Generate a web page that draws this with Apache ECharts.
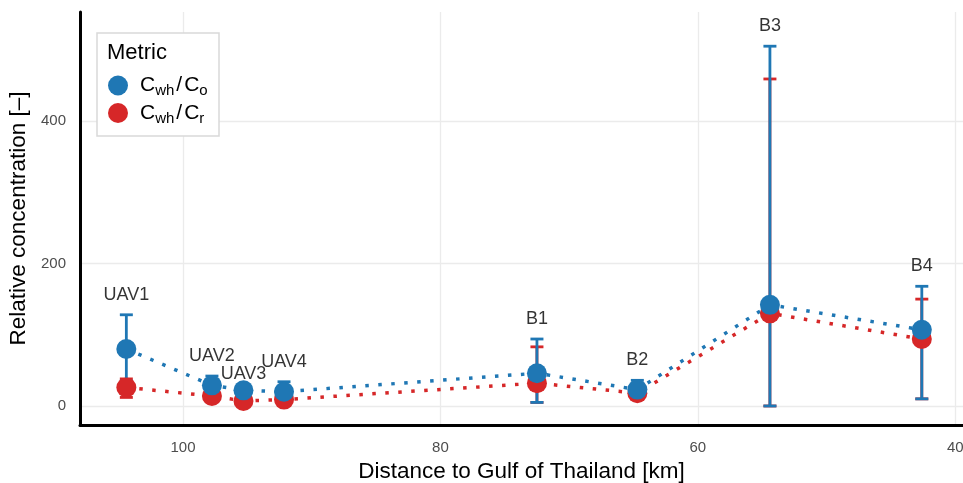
<!DOCTYPE html>
<html><head><meta charset="utf-8">
<script src="https://cdn.jsdelivr.net/npm/echarts@6/dist/echarts.min.js"></script>
<style>html,body{margin:0;padding:0;background:#fff}#c{width:963px;height:483px}</style>
</head><body><div id="c"></div>
<script>
const sites = ['UAV1','UAV2','UAV3','UAV4','B1','B2','B3','B4'];
const distance = [104.4, 97.75, 95.3, 92.15, 72.5, 64.7, 54.4, 42.6];
const coMean = [80, 29, 22, 20, 46, 23, 142, 107];
const coLow  = [35, 20, 18, 12, 5, 14, 0, 10];
const coHigh = [128, 42, 28, 34, 94, 36, 505, 168];
const crMean = [26, 14, 7, 9, 32, 18, 130, 94];
const crLow  = [12, 8, 2, 4, 5, 12, 0, 10];
const crHigh = [38, 20, 12, 14, 83, 24, 459, 150];
const xTicks = [100, 80, 60, 40];
const yTicks = [0, 200, 400];
const seriesNames = ['Cwh/Co', 'Cwh/Cr'];

const BLUE = '#1f77b4', RED = '#d62728';
const FONT = '"Liberation Sans", Arial, sans-serif';
const labelNudge = { UAV3: 3 };

function errorSeries(name, low, high, color, z) {
  return {
    type: 'custom', name: name, z: z, silent: true,
    data: distance.map((d, i) => [d, low[i], high[i]]),
    encode: { x: 0, y: [1, 2] },
    renderItem: function (params, api) {
      const x = api.value(0);
      const lo = api.coord([x, api.value(1)]);
      const hi = api.coord([x, api.value(2)]);
      const w = 6.5;
      const style = { stroke: color, lineWidth: 2.8 };
      return { type: 'group', children: [
        { type: 'line', shape: { x1: lo[0], y1: lo[1], x2: hi[0], y2: hi[1] }, style: style },
        { type: 'line', shape: { x1: lo[0] - w, y1: lo[1], x2: lo[0] + w, y2: lo[1] }, style: style },
        { type: 'line', shape: { x1: hi[0] - w, y1: hi[1], x2: hi[0] + w, y2: hi[1] }, style: style }
      ]};
    }
  };
}
function lineSeries(name, vals, color) {
  return {
    type: 'line', name: name, z: 2, silent: true, symbol: 'none',
    data: distance.map((d, i) => [d, vals[i]]),
    lineStyle: { color: color, width: 3.5, type: [3.5, 9.5], cap: 'butt' }
  };
}
function pointSeries(name, vals, color, z) {
  return {
    type: 'scatter', name: name, z: z, silent: true,
    symbol: 'circle', symbolSize: 20,
    data: distance.map((d, i) => [d, vals[i]]),
    itemStyle: { color: color, opacity: 1 }
  };
}

const chart = echarts.init(document.getElementById('c'), null, { renderer: 'canvas' });
const rich = {
  m: { fontSize: 21, lineHeight: 26, color: '#000', fontFamily: FONT },
  s: { fontSize: 15, lineHeight: 15, verticalAlign: 'bottom', color: '#000', fontFamily: FONT },
  sl: { fontSize: 21, lineHeight: 26, color: '#000', fontFamily: FONT, padding: [0, 2, 0, 2] }
};
chart.setOption({
  animation: false,
  textStyle: { fontFamily: FONT },
  grid: { left: 80, right: 0, top: 12, bottom: 58, containLabel: false, outerBoundsMode: 'none' },
  xAxis: {
    type: 'value', inverse: true, min: 39.4, max: 108,
    name: 'Distance to Gulf of Thailand [km]', nameLocation: 'middle', nameGap: 26,
    nameTextStyle: { fontSize: 22.5, color: '#000', fontFamily: FONT },
    axisLine: { show: true, onZero: false, lineStyle: { color: '#000', width: 3 } },
    axisTick: { show: false, customValues: xTicks },
    axisLabel: { customValues: xTicks, fontSize: 15, color: '#4d4d4d', margin: 15, fontFamily: FONT },
    splitLine: { show: true, lineStyle: { color: '#ebebeb', width: 1.3 } }
  },
  yAxis: {
    type: 'value', min: -26.7, max: 553,
    name: 'Relative concentration [–]', nameLocation: 'middle', nameGap: 47, nameRotate: 90,
    nameTextStyle: { fontSize: 22.5, color: '#000', fontFamily: FONT },
    axisLine: { show: true, onZero: false, lineStyle: { color: '#000', width: 3 } },
    axisTick: { show: false, customValues: yTicks },
    axisLabel: { customValues: yTicks, fontSize: 15, color: '#4d4d4d', margin: 14, fontFamily: FONT },
    splitLine: { show: true, lineStyle: { color: '#ebebeb', width: 1.3 } }
  },
  graphic: [
    { type: 'rect', z: 3, shape: { x: 97, y: 33, width: 122, height: 103 },
      style: { fill: '#fff', stroke: '#d9d9d9', lineWidth: 1.5 } },
    { type: 'text', z: 4, x: 107, y: 53,
      style: { text: 'Metric', fontSize: 22, fill: '#000', fontFamily: FONT, verticalAlign: 'middle' } }
  ],
  legend: {
    orient: 'vertical', left: 108, top: 75, padding: 0, itemGap: 4,
    itemWidth: 30, itemHeight: 20, icon: 'circle', selectedMode: false,
    data: [
      { name: seriesNames[0], itemStyle: { color: BLUE } },
      { name: seriesNames[1], itemStyle: { color: RED } }
    ],
    formatter: function (name) {
      return name === seriesNames[0]
        ? '{m|C}{s|wh}{sl|/}{m|C}{s|o}'
        : '{m|C}{s|wh}{sl|/}{m|C}{s|r}';
    },
    textStyle: { rich: rich, padding: [0, 0, 0, 2] }
  },
  series: [
    lineSeries(seriesNames[0], coMean, BLUE),
    lineSeries(seriesNames[1], crMean, RED),
    errorSeries(seriesNames[1], crLow, crHigh, RED, 3),
    errorSeries(seriesNames[0], coLow, coHigh, BLUE, 4),
    pointSeries(seriesNames[1], crMean, RED, 5),
    pointSeries(seriesNames[0], coMean, BLUE, 6),
    {
      type: 'scatter', name: 'labels', z: 7, silent: true, symbolSize: 0,
      data: sites.map((s, i) => ({
        name: s,
        value: [distance[i], Math.max(coHigh[i], crHigh[i])],
        label: { distance: labelNudge[s] !== undefined ? labelNudge[s] : 11 }
      })),
      label: { show: true, position: 'top', formatter: '{b}', fontSize: 18, color: '#000', fontFamily: FONT }
    }
  ]
});
</script></body></html>
